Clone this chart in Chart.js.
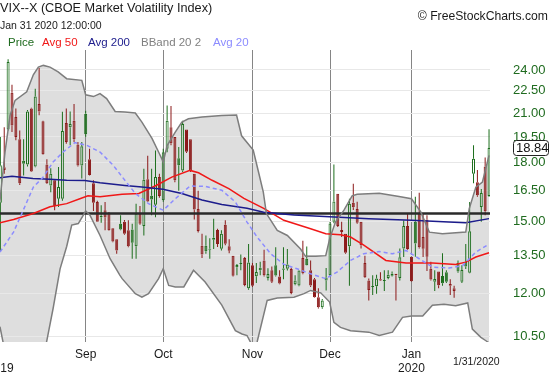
<!DOCTYPE html>
<html>
<head>
<meta charset="utf-8">
<script src="https://cdn.jsdelivr.net/npm/chart.js@4.4.1/dist/chart.umd.min.js"></script>
<style>
  body { margin: 0; background: #fff; }
  #wrap { position: relative; width: 550px; height: 375px; overflow: hidden; font-family: "Liberation Sans", Arial, sans-serif; }
  #chart { position: absolute; left: 0; top: 0; }
  .t { position: absolute; white-space: nowrap; line-height: 1; }
</style>
</head>
<body>
<div id="wrap">
  <canvas id="chart" width="550" height="375"></canvas>
  <div class="t" style="left:0;top:2.3px;font-size:12.7px;color:#1a1a1a">VIX--X (CBOE Market Volatility Index)</div>
  <div class="t" style="left:0;top:20.3px;font-size:10.5px;color:#1a1a1a">Jan 31 2020 12:00:00</div>
  <div class="t" style="left:8px;top:37px;font-size:11.5px;color:#1f6b1f">Price</div>
  <div class="t" style="left:42px;top:37px;font-size:11.5px;color:#f01818">Avg 50</div>
  <div class="t" style="left:88px;top:37px;font-size:11.5px;color:#1c1c8c">Avg 200</div>
  <div class="t" style="left:141px;top:37px;font-size:11.5px;color:#808080">BBand 20 2</div>
  <div class="t" style="left:213px;top:37px;font-size:11.5px;color:#8c8cff">Avg 20</div>
  <div class="t" style="right:2px;top:9.8px;font-size:12.2px;color:#1a1a1a">&copy; FreeStockCharts.com</div>
  <div class="t" style="left:453px;top:356px;font-size:10.5px;color:#1a1a1a">1/31/2020</div>
</div>
<script>
// daily candles, index 0 = Aug 1 2019 ... 126 = Jan 31 2020
const opens = [
  15.9, 17.75, 19.96, 22.37, 20.74, 19.36, 18.12, 17.9, 21.3, 17.8,
  21.6, 20.48, 17.9, 16.78, 17.05, 16.1, 16.1, 20.36, 20.1, 20.5,
  19.05, 17.85, 20.95, 18.2, 16.9, 15.94, 15.2, 15.54, 15.4, 14.7,
  14.2, 14.9, 15.0, 14.6, 14.64, 13.9, 15.38, 14.8, 17.1, 16.25,
  15.8, 17.22, 16.03, 18.8, 20.1, 19.5, 18.25, 17.58, 19.96, 19.36,
  17.4, 15.6, 13.92, 13.92, 13.75, 14.18, 14.62, 13.79, 14.85, 13.9,
  13.5, 13.02, 13.15, 13.4, 12.2, 13.1, 12.66, 12.9, 13.3, 12.6,
  12.9, 13.1, 12.65, 12.92, 12.96, 12.95, 12.35, 12.31, 13.4, 13.37,
  12.9, 12.55, 11.87, 11.5, 12.5, 12.7, 15.0, 16.35, 14.62, 14.45,
  13.9, 15.9, 15.6, 15.0, 13.19, 12.5, 12.25, 12.28, 12.55, 12.48,
  12.6, 12.68, 12.76, 12.6, 13.8, 14.8, 13.45, 15.0, 15.4, 14.3,
  15.1, 12.96, 12.45, 12.85, 12.67, 12.82, 12.36, 12.2, 13.2, 12.45,
  13.25, 12.8, 17.4, 16.95, 15.7, 17.8, 16.24
];
const highs = [
  19.5, 20.1, 24.8, 22.93, 21.3, 19.9, 19.36, 21.2, 21.35, 22.65,
  24.14, 20.5, 18.2, 17.7, 17.1, 17.76, 21.08, 21.3, 21.1, 21.6,
  19.2, 19.2, 21.15, 18.8, 17.05, 16.0, 15.78, 15.94, 15.45, 14.7,
  14.2, 15.3, 15.07, 15.06, 14.9, 15.85, 15.75, 17.67, 18.4, 17.67,
  18.7, 17.4, 18.8, 21.5, 21.46, 19.5, 18.9, 20.5, 19.96, 19.36,
  17.4, 16.5, 14.45, 14.37, 14.25, 15.14, 14.67, 14.6, 15.06, 14.2,
  13.5, 13.15, 13.55, 13.44, 14.0, 13.2, 13.2, 13.25, 13.75, 12.98,
  13.05, 13.85, 12.9, 13.85, 13.78, 13.0, 12.7, 12.9, 14.14, 13.89,
  13.3, 12.6, 12.2, 11.8, 12.99, 14.98, 17.9, 16.35, 15.0, 14.45,
  16.1, 16.87, 15.95, 15.0, 13.5, 12.58, 12.7, 12.72, 12.82, 12.9,
  12.9, 12.85, 12.76, 13.8, 15.05, 15.4, 13.45, 16.2, 16.4, 15.4,
  15.3, 13.25, 12.9, 12.85, 13.6, 12.9, 12.55, 12.3, 13.3, 13.1,
  14.0, 15.94, 19.0, 17.6, 16.6, 18.3, 19.97
];
const lows = [
  13.7, 17.4, 19.9, 19.8, 19.3, 16.8, 17.3, 17.8, 17.5, 17.75,
  20.86, 18.45, 16.85, 16.43, 15.54, 15.7, 16.0, 19.1, 19.0, 19.2,
  17.8, 17.15, 19.5, 17.3, 15.5, 15.0, 14.95, 14.6, 14.58, 14.07,
  13.58, 14.6, 14.4, 13.85, 13.37, 13.37, 14.85, 14.37, 15.94, 15.3,
  15.2, 16.15, 15.95, 18.6, 19.0, 16.95, 16.5, 17.5, 18.55, 17.5,
  15.1, 14.5, 13.4, 13.58, 13.37, 13.78, 13.87, 13.72, 13.94, 13.6,
  12.65, 12.7, 12.9, 12.28, 12.15, 12.25, 12.4, 12.7, 12.65, 12.5,
  12.4, 12.65, 12.35, 12.55, 12.89, 11.98, 12.32, 12.28, 12.74, 13.09,
  12.25, 11.85, 11.46, 11.45, 12.12, 12.65, 14.93, 14.75, 14.3, 13.58,
  12.3, 15.55, 14.9, 13.8, 12.6, 11.75, 11.95, 12.0, 12.48, 12.1,
  12.55, 12.65, 11.75, 12.5, 13.44, 13.75, 12.45, 13.45, 13.8, 13.44,
  12.87, 12.5, 12.1, 12.2, 12.3, 12.4, 11.95, 11.85, 12.8, 12.4,
  12.95, 12.78, 16.9, 16.2, 15.0, 15.3, 16.2
];
const closes = [
  17.87, 17.6, 24.59, 20.2, 19.5, 16.9, 17.95, 21.1, 17.52, 22.1,
  21.1, 18.48, 16.9, 17.4, 15.75, 16.7, 19.87, 19.2, 20.3, 19.36,
  17.85, 18.95, 19.66, 17.33, 15.9, 15.0, 15.27, 15.19, 14.6, 14.1,
  13.72, 14.64, 14.45, 13.9, 14.05, 15.38, 14.9, 17.08, 15.96, 16.07,
  17.22, 16.24, 18.6, 20.5, 19.12, 17.05, 17.86, 20.3, 18.62, 17.57,
  15.58, 14.57, 13.55, 13.68, 13.79, 14.27, 14.0, 14.45, 14.01, 13.71,
  12.68, 13.11, 13.2, 12.33, 13.22, 12.3, 12.83, 13.0, 12.7, 12.75,
  12.45, 12.69, 12.38, 12.97, 13.13, 12.02, 12.5, 12.89, 12.78, 13.1,
  12.31, 11.87, 11.5, 11.75, 12.62, 14.91, 15.96, 14.8, 14.52, 13.62,
  15.86, 15.68, 14.95, 13.94, 12.63, 12.14, 12.29, 12.58, 12.5, 12.51,
  12.72, 12.76, 12.7, 13.43, 14.8, 13.78, 12.47, 14.02, 13.85, 13.79,
  13.45, 12.54, 12.56, 12.32, 12.39, 12.45, 12.3, 12.1, 12.85, 12.91,
  13.05, 14.56, 18.23, 16.28, 16.39, 15.49, 18.84
];

// indicator lines (x = trading day index)
const avg20Idx = [-0.1,3.4,5.9,8.5,11.1,13.6,16.2,19.2,22.3,25.7,29.1,32.1,34.8,38.2,42.0,45.1,48.9,52.8,57.1,60.6,63.6,66.2,69.7,73.1,76.5,80.0,83.9,86.8,90.3,93.7,97.7,101.1,104.6,108.0,111.4,115.7,119.2,122.6,126.0];
const avg20 = [13.65,14.52,15.54,16.69,17.23,18.05,18.61,19.16,19.0,18.61,17.86,17.05,16.37,15.86,15.54,16.1,16.75,16.73,16.53,15.94,14.98,14.3,13.58,13.14,12.96,12.76,12.57,12.83,13.3,13.58,13.67,13.58,13.72,13.37,13.03,12.99,13.09,13.65,13.99];

const avg50Idx = [-0.1,3.4,8.5,12.8,17.1,20.5,22.6,25.7,31.4,35.7,39.9,44.2,48.9,51.1,54.6,58.9,62.8,67.9,73.1,80.0,83.9,87.7,90.3,93.7,99.4,104.6,111.4,117.4,120.0,122.6,126.0];
const avg50 = [14.95,15.1,15.38,15.71,15.86,16.1,16.25,16.2,16.33,16.37,16.75,17.22,17.58,17.45,17.05,16.62,16.12,15.63,15.06,14.67,14.45,14.4,14.3,13.95,13.3,13.2,13.19,13.13,13.23,13.44,13.62];

const avg200Idx = [-0.1,3.0,8.4,12.8,17.1,21.8,25.7,32.1,36.5,41.9,46.8,52.0,57.1,63.6,67.9,75.7,84.9,95.0,106.1,115.6,120.0,126.0];
const avg200 = [17.19,17.26,17.14,17.1,17.05,17.04,16.92,16.78,16.70,16.58,16.37,16.04,15.82,15.63,15.44,15.31,15.23,15.14,15.06,14.98,14.95,15.14];

const bandUpIdx = [-0.1,1.2,2.5,3.8,6.8,8.5,9.8,11.1,12.8,14.9,17.1,21.0,22.0,24.0,25.7,27.4,29.6,32.1,34.8,36.5,39.1,40.8,42.0,43.0,45.1,46.8,48.5,52.0,57.1,60.9,62.2,65.2,66.5,67.8,68.6,71.4,74.0,77.4,78.7,81.3,83.9,84.9,86.4,88.6,90.7,92.0,97.7,102.8,106.0,108.4,110.6,114.0,120.0,120.9,122.6,124.3,126.0];
const bandUp = [16.0,18.6,20.84,21.84,22.43,23.64,24.21,24.34,24.21,23.85,23.36,23.24,22.22,22.1,22.3,21.96,21.1,21.06,21.0,20.42,19.41,18.61,18.05,18.99,19.8,20.42,20.63,20.74,20.84,20.87,19.57,18.72,17.55,16.44,15.38,14.6,14.37,13.78,13.47,13.47,13.5,14.22,14.98,15.54,16.25,16.33,16.38,16.21,16.1,15.46,14.52,14.45,14.52,15.62,16.69,16.96,18.42];

const bandLoIdx = [-0.1,0.9,5.1,8.9,11.9,13.6,15.4,17.1,18.4,20.1,21.4,22.0,23.1,25.7,28.3,30.8,31.4,34.8,36.5,38.2,40.8,42.0,43.4,45.1,47.3,49.8,52.8,57.1,60.6,62.3,63.6,64.6,65.4,66.2,68.8,71.4,75.7,78.3,80.0,82.6,84.9,86.0,87.7,90.3,95.0,97.7,101.1,103.7,106.0,108.9,111.4,114.4,117.4,120.5,121.7,123.9,125.2,126.0];
const bandLo = [10.83,10.2,9.4,9.6,10.32,11.46,12.96,13.89,14.84,14.91,15.3,15.5,15.3,14.37,13.37,12.71,12.57,12.0,11.87,12.0,12.57,12.96,12.31,12.25,12.25,12.9,12.44,11.58,10.7,10.59,10.54,10.3,10.05,10.33,11.75,11.84,11.87,12.0,12.12,12.03,11.69,10.98,10.81,10.7,10.65,10.54,10.65,11.15,11.2,11.2,11.58,11.61,11.56,11.66,10.75,10.48,10.37,10.3];

const levelLine = 15.38;

const yTicks = [10.5, 12, 13.5, 15, 16.5, 18, 19.5, 21, 22.5, 24];
const monthTicks = [0, 22, 42, 65, 85, 106];
const monthLabels = [['', '2019'], 'Sep', 'Oct', 'Nov', 'Dec', ['Jan', '2020']];

const GREEN = '#1c6e1c';
const RED = '#8b1818';

function pts(xs, ys){
  return xs.map((x, i) => ({x: x, y: ys[i]}));
}

// candle colours: green/red vs previous close, hollow when close >= open
let bodyData = [], wickHi = [], wickLo = [], fillCol = [], lineCol = [];
for(let i=0; i<closes.length; i++){
  let o = opens[i], c = closes[i];
  let up = i === 0 ? true : c >= closes[i-1];
  let col = up ? GREEN : RED;
  let top = Math.max(o, c), bot = Math.min(o, c);
  bodyData.push({x: i, y: [bot, top]});
  wickHi.push({x: i, y: [top, highs[i]]});
  wickLo.push({x: i, y: [lows[i], bot]});
  lineCol.push(col);
  fillCol.push(c >= o ? 'rgba(0,0,0,0)' : col);
}

const lastClose = closes[closes.length - 1];

const priceTag = {
  id: 'priceTag',
  afterDraw(chart){
    let ctx = chart.ctx;
    let y = Math.round(chart.scales.y.getPixelForValue(lastClose));
    let x = chart.chartArea.right + 23.5;
    ctx.save();
    ctx.beginPath();
    ctx.roundRect(x, y - 7.5, 35, 15, 3);
    ctx.fillStyle = '#fff';
    ctx.fill();
    ctx.strokeStyle = '#222';
    ctx.lineWidth = 1;
    ctx.stroke();
    ctx.fillStyle = '#111';
    ctx.font = '13px "Liberation Sans", Arial, sans-serif';
    ctx.textBaseline = 'middle';
    ctx.fillText(lastClose.toFixed(2), x + 2.5, y + 0.5);
    ctx.restore();
  }
};

let lineBase = { type: 'line', pointRadius: 0, borderWidth: 1.5, tension: 0, order: 1, fill: false };

let chart = new Chart(document.getElementById('chart').getContext('2d'), {
  type: 'bar',
  data: {
    datasets: [
      Object.assign({}, lineBase, { data: pts(bandUpIdx, bandUp), borderColor: '#7d7d7d', backgroundColor: 'rgb(222,222,222)', fill: '+1' }),
      Object.assign({}, lineBase, { data: pts(bandLoIdx, bandLo), borderColor: '#7d7d7d' }),
      Object.assign({}, lineBase, { data: pts(avg20Idx, avg20), borderColor: '#8c8cff', borderDash: [4, 3] }),
      Object.assign({}, lineBase, { data: pts(avg200Idx, avg200), borderColor: '#1c1c8c' }),
      Object.assign({}, lineBase, { data: pts(avg50Idx, avg50), borderColor: '#f01818' }),
      Object.assign({}, lineBase, { data: [{x: -1, y: levelLine}, {x: 128, y: levelLine}], borderColor: '#2a2a2a', borderWidth: 2.5 }),
      { data: wickHi, backgroundColor: lineCol, barThickness: 1, grouped: false, order: 5, inflateAmount: 0, borderSkipped: false },
      { data: wickLo, backgroundColor: lineCol, barThickness: 1, grouped: false, order: 5, inflateAmount: 0, borderSkipped: false },
      { data: bodyData, backgroundColor: fillCol, borderColor: lineCol, borderWidth: 1, barThickness: 3,
        grouped: false, order: 4, minBarLength: 1, borderSkipped: false, inflateAmount: 0 }
    ]
  },
  options: {
    responsive: false,
    animation: false,
    layout: { padding: { top: 50, left: 0, right: 0, bottom: 0 } },
    plugins: {
      legend: { display: false },
      tooltip: { enabled: false },
      filler: { drawTime: 'beforeDraw' }
    },
    scales: {
      x: {
        type: 'linear',
        min: -0.09,
        max: 126.25,
        offset: false,
        border: { display: false },
        grid: {
          offset: false,
          drawTicks: false,
          color: (ctx) => (ctx.tick && ctx.tick.value === 0) ? 'rgba(0,0,0,0)' : '#858585',
          lineWidth: 1
        },
        ticks: {
          autoSkip: false,
          maxRotation: 0,
          padding: 6,
          color: '#1a1a1a',
          font: { family: '"Liberation Sans", Arial, sans-serif', size: 12, lineHeight: 1.1667 },
          callback: (v) => {
            let k = monthTicks.indexOf(v);
            return k >= 0 ? monthLabels[k] : '';
          }
        },
        afterBuildTicks: (scale) => { scale.ticks = monthTicks.map(v => ({ value: v })); },
        afterFit: (scale) => { scale.height = 33; scale.paddingLeft = 0; scale.paddingRight = 0; }
      },
      y: {
        type: 'logarithmic',
        position: 'right',
        min: 10.33,
        max: 25.53,
        border: { display: false },
        grid: { drawTicks: false, color: '#e8e8e8', lineWidth: 1 },
        ticks: {
          autoSkip: false,
          padding: 23,
          color: '#1f6b1f',
          font: { family: '"Liberation Sans", Arial, sans-serif', size: 13 },
          callback: (v) => Number(v).toFixed(2)
        },
        afterBuildTicks: (scale) => { scale.ticks = yTicks.map(v => ({ value: v })); },
        afterFit: (scale) => { scale.width = 60; scale.paddingTop = 0; scale.paddingBottom = 0; }
      }
    }
  },
  plugins: [priceTag]
});
</script>
</body>
</html>
